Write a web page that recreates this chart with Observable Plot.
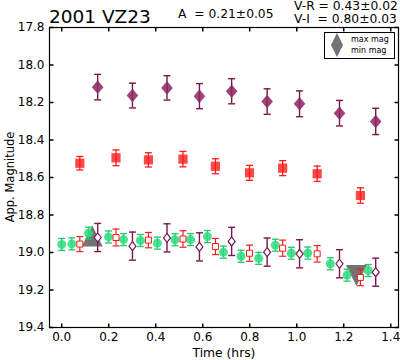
<!DOCTYPE html>
<html><head><meta charset="utf-8">
<script src="https://cdn.jsdelivr.net/npm/d3@7"></script>
<script src="https://cdn.jsdelivr.net/npm/@observablehq/plot@0.6"></script>
<style>body{margin:0;background:#fff;} #chart{width:400px;height:360px;}</style>
</head><body><div id="chart"></div>
<script>
// R-band (top, filled squares)
const rTime = [0.077,0.231,0.369,0.516,0.654,0.799,0.940,1.087,1.271];
const rMag  = [18.524,18.495,18.506,18.502,18.540,18.575,18.550,18.580,18.696];
const rErr  = [0.036,0.042,0.038,0.041,0.040,0.040,0.040,0.041,0.041];
// I-band (top, filled diamonds)
const iTime = [0.153,0.301,0.448,0.586,0.723,0.874,1.012,1.182,1.336];
const iMag  = [18.118,18.163,18.122,18.166,18.140,18.195,18.207,18.257,18.301];
const iErr  = [0.068,0.066,0.065,0.067,0.067,0.068,0.069,0.068,0.070];
// V-band (green circles)
const vTime = [0.000,0.043,0.114,0.199,0.263,0.335,0.407,0.482,0.548,0.620,0.688,0.763,0.838,0.909,0.977,1.047,1.143,1.214,1.304];
const vMag  = [18.957,18.954,18.897,18.917,18.931,18.936,18.950,18.932,18.931,18.915,18.998,19.020,19.031,18.961,19.004,19.003,19.060,19.121,19.096];
const vErr  = 0.032;
// R shifted by V-R (open squares)
const rShiftMag = [18.955,18.920,18.934,18.928,18.968,19.004,18.977,19.007,19.133];
const rShiftErr = [0.040,0.045,0.041,0.044,0.043,0.043,0.043,0.044,0.044];
// I shifted by V-I (open diamonds)
const iShiftMag = [18.920,18.966,18.922,18.970,18.941,18.998,19.007,19.060,19.105];
const iShiftErr = 0.075;
// extrema
const maxTime = [0.130], maxMag = [18.912];
const minTime = [1.254], minMag = [19.123];
// ticks
const xTicks = [0,0.2,0.4,0.6,0.8,1.0,1.2,1.4];
const yTicks = [17.8,18.0,18.2,18.4,18.6,18.8,19.0,19.2,19.4];
const legendLabels = ["max mag", "min mag"];

const rows = (t, m, e) => t.map((ti, i) => ({t: ti, m: m[i], e: Array.isArray(e) ? e[i] : e}));
const R = rows(rTime, rMag, rErr), I = rows(iTime, iMag, iErr), V = rows(vTime, vMag, vErr);
const RS = rows(rTime, rShiftMag, rShiftErr), IS = rows(iTime, iShiftMag, iShiftErr);
const MX = rows(maxTime, maxMag, 0), MN = rows(minTime, minMag, 0);

const cap = w => ({draw(c){c.moveTo(-w,0);c.lineTo(w,0);}});
const vtick = (a,b) => ({draw(c){c.moveTo(0,a);c.lineTo(0,b);}});
const htick = (a,b) => ({draw(c){c.moveTo(a,0);c.lineTo(b,0);}});
const diamond = (hw,hh) => ({draw(c){c.moveTo(0,-hh);c.lineTo(hw,0);c.lineTo(0,hh);c.lineTo(-hw,0);c.closePath();}});
const square = h => ({draw(c){c.rect(-h,-h,2*h,2*h);}});
const tri = (s, up) => ({draw(c){ if(up){c.moveTo(0,-s);c.lineTo(s,s);c.lineTo(-s,s);} else {c.moveTo(0,s);c.lineTo(s,-s);c.lineTo(-s,-s);} c.closePath();}});

const PURPLE = "#8e2563", PURPLE_BAR = "#7a1650", RED = "#ff1a1a", GREEN = "#2ddc7c", GREEN_BAR = "#1fc86a";

function errMarks(data, color, w, sw) {
  return [
    Plot.ruleX(data, {x: "t", y1: d => d.m - d.e, y2: d => d.m + d.e, stroke: color, strokeWidth: sw}),
    Plot.dot(data, {x: "t", y: d => d.m - d.e, symbol: cap(w), stroke: color, fill: "none", strokeWidth: sw}),
    Plot.dot(data, {x: "t", y: d => d.m + d.e, symbol: cap(w), stroke: color, fill: "none", strokeWidth: sw})
  ];
}

const svg = Plot.plot({
  width: 400, height: 360,
  marginLeft: 49, marginRight: 2, marginTop: 27, marginBottom: 33,
  style: {fontFamily: "'DejaVu Sans', sans-serif", fontSize: "12px", background: "#fff", color: "#000"},
  x: {domain: [-0.052, 1.433], label: null},
  y: {domain: [17.8, 19.4], reverse: true, label: null},
  marks: [
    Plot.axisX(xTicks, {tickSize: 0, tickPadding: 5, tickFormat: d3.format(".1f"), label: null, fontSize: 12}),
    Plot.axisY(yTicks, {tickSize: 0, tickPadding: 5, tickFormat: d3.format(".1f"), label: null, fontSize: 12}),
    // inward ticks
    Plot.dot(xTicks, {x: d => d, frameAnchor: "bottom", symbol: vtick(0,-4), stroke: "black", fill: "none"}),
    Plot.dot(xTicks, {x: d => d, frameAnchor: "top", symbol: vtick(0,4), stroke: "black", fill: "none"}),
    Plot.dot(yTicks, {y: d => d, frameAnchor: "left", symbol: htick(0,4), stroke: "black", fill: "none"}),
    Plot.dot(yTicks, {y: d => d, frameAnchor: "right", symbol: htick(0,-4), stroke: "black", fill: "none"}),
    // extrema triangles
    Plot.dot(MX, {x: "t", y: "m", symbol: tri(10.5, true), fill: "#444", fillOpacity: 0.75, stroke: "none"}),
    Plot.dot(MN, {x: "t", y: "m", symbol: tri(10.5, false), fill: "#444", fillOpacity: 0.75, stroke: "none"}),
    // top I diamonds
    ...errMarks(I, PURPLE_BAR, 3.5, 1.4),
    Plot.dot(I, {x: "t", y: "m", symbol: diamond(5.8, 6.8), fill: PURPLE, fillOpacity: 0.85, stroke: "none"}),
    // top R squares
    ...errMarks(R, RED, 3.5, 1.3),
    Plot.dot(R, {x: "t", y: "m", symbol: square(4.6), fill: RED, fillOpacity: 0.8, stroke: "none"}),
    // V circles
    ...errMarks(V, GREEN_BAR, 3.5, 1.3),
    Plot.dot(V, {x: "t", y: "m", r: 4.5, fill: GREEN, fillOpacity: 0.85, stroke: "none"}),
    // shifted R open squares
    ...errMarks(RS, RED, 3.5, 1.2),
    Plot.dot(RS, {x: "t", y: "m", symbol: square(3), fill: "white", stroke: RED, strokeWidth: 1}),
    // shifted I open diamonds
    ...errMarks(IS, PURPLE_BAR, 3.5, 1.4),
    Plot.dot(IS, {x: "t", y: "m", symbol: diamond(3.5, 4.5), fill: "white", stroke: PURPLE_BAR, strokeWidth: 1.2}),
    Plot.frame({stroke: "black", strokeWidth: 1.2})
  ]
});

const s = d3.select(svg);
const T = (x, y, txt, size, anchor="start") => s.append("text").attr("x", x).attr("y", y)
  .style("font-size", size + "px").style("text-anchor", anchor).style("fill", "#000")
  .style("white-space", "pre").text(txt);
T(49, 23, "2001 VZ23", 18.5);
T(178, 18, "A\u00a0 = 0.21\u00b10.05", 12.3);
T(294, 10, "V-R = 0.43\u00b10.02", 12.3);
T(294, 23, "V-I\u00a0 = 0.80\u00b10.03", 12.3);
T(224, 357, "Time (hrs)", 12.3, "middle");
s.append("text").attr("transform", "translate(14,177) rotate(-90)").style("text-anchor", "middle")
  .style("font-size", "11.5px").style("fill", "#000").text("App. Magnitude");

// legend
const lg = s.append("g");
lg.append("rect").attr("x", 324.5).attr("y", 32.5).attr("width", 70).attr("height", 26)
  .style("fill", "#fff").style("stroke", "#000").style("stroke-width", "1px");
lg.append("path").attr("d", "M337,33 L343,45 L331,45 Z").style("fill", "#444").style("fill-opacity", 0.75);
lg.append("path").attr("d", "M337,57 L343,45 L331,45 Z").style("fill", "#444").style("fill-opacity", 0.75);
legendLabels.forEach((lab, i) => {
  lg.append("text").attr("x", 351).attr("y", 42 + 11 * i).style("font-size", "8px")
    .style("text-anchor", "start").style("fill", "#000").text(lab);
});

document.getElementById("chart").appendChild(svg);
</script>
</body></html>
